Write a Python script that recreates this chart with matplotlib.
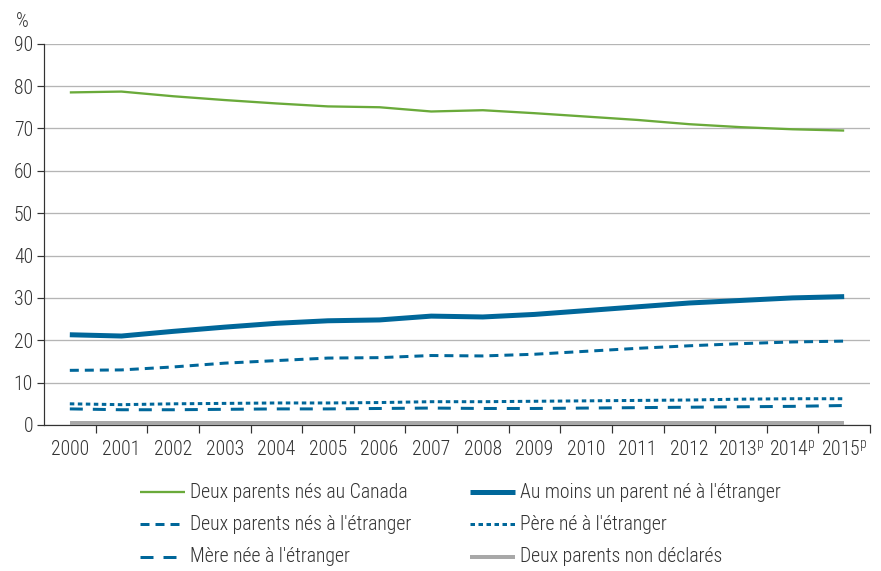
import matplotlib
matplotlib.use("Agg")
import matplotlib.pyplot as plt
from matplotlib.lines import Line2D
import numpy as np

FONT = ['Roboto Condensed', 'Archivo Narrow', 'DejaVu Sans']
plt.rcParams['font.family'] = FONT
plt.rcParams['font.weight'] = 'light'
plt.rcParams['mathtext.fontset'] = 'custom'
plt.rcParams['mathtext.rm'] = 'Roboto Condensed:light'
plt.rcParams['mathtext.it'] = 'Roboto Condensed:light'
plt.rcParams['lines.scale_dashes'] = False

years = ["2000", "2001", "2002", "2003", "2004", "2005", "2006", "2007",
         "2008", "2009", "2010", "2011", "2012",
         "2013$^{\\mathrm{p}}$", "2014$^{\\mathrm{p}}$", "2015$^{\\mathrm{p}}$"]

deux_canada = [78.5, 78.7, 77.6, 76.7, 75.9, 75.2, 75.0, 74.0, 74.3, 73.6, 72.8, 72.0, 71.0, 70.3, 69.8, 69.5]
au_moins_un = [21.3, 21.0, 22.1, 23.1, 24.0, 24.6, 24.8, 25.7, 25.5, 26.1, 27.0, 27.9, 28.8, 29.4, 30.0, 30.3]
deux_etranger = [12.9, 13.0, 13.7, 14.6, 15.2, 15.8, 15.9, 16.4, 16.3, 16.7, 17.4, 18.1, 18.7, 19.2, 19.6, 19.8]
pere_etranger = [5.0, 4.8, 5.0, 5.1, 5.2, 5.2, 5.3, 5.5, 5.5, 5.6, 5.7, 5.8, 5.9, 6.1, 6.2, 6.2]
mere_etranger = [3.8, 3.6, 3.6, 3.7, 3.8, 3.8, 3.9, 4.0, 3.9, 3.9, 4.0, 4.1, 4.2, 4.3, 4.4, 4.6]
non_declares = [0.4, 0.4, 0.4, 0.4, 0.4, 0.4, 0.4, 0.4, 0.4, 0.4, 0.4, 0.4, 0.4, 0.4, 0.4, 0.4]

labels = ["Deux parents nés au Canada", "Au moins un parent né à l'étranger",
          "Deux parents nés à l'étranger", "Père né à l'étranger",
          "Mère née à l'étranger", "Deux parents non déclarés"]

GREEN = "#6aaa3a"
BLUE = "#00679a"
GRAY = "#a8a8a8"
TXT = "#333333"
FS = 14.2

W, H = 881, 571
fig = plt.figure(figsize=(W / 100, H / 100), dpi=100)
ax = fig.add_axes([44 / W, 1 - 425 / H, (870 - 44) / W, (425 - 43.7) / H])

x = np.arange(len(years))
px = 0.72  # points per pixel

styles = [
    dict(color=GREEN, lw=2.3 * px, ls='-'),
    dict(color=BLUE, lw=5.0 * px, ls='-'),
    dict(color=BLUE, lw=3.0 * px, ls=(0, (9 * px, 6 * px))),
    dict(color=BLUE, lw=3.0 * px, ls=(0, (4.5 * px, 3.5 * px))),
    dict(color=BLUE, lw=3.0 * px, ls=(0, (13 * px, 10 * px))),
    dict(color=GRAY, lw=4.0 * px, ls='-'),
]
series = [deux_canada, au_moins_un, deux_etranger, pere_etranger, mere_etranger, non_declares]
for i in [5, 0, 4, 3, 2, 1]:
    s = styles[i]
    ax.plot(x, series[i], color=s['color'], lw=s['lw'], linestyle=s['ls'],
            solid_capstyle='butt', dash_capstyle='butt', zorder=3)

ax.set_xlim(-0.5, len(years) - 0.5)
ax.set_ylim(0, 90)
ax.set_yticks(np.arange(0, 91, 10))
ax.yaxis.grid(True, color="#b5b5b5", lw=1.3 * px)
ax.set_axisbelow(True)
ax.set_xticks(x)
ax.set_xticklabels(years)
ax.set_xticks(np.arange(0.5, len(years), 1.0), minor=True)
ax.tick_params(axis='x', which='major', length=0, pad=21.8, labelsize=FS, labelcolor=TXT)
ax.tick_params(axis='x', which='minor', length=6, width=1.2 * px, color=TXT)
ax.tick_params(axis='y', length=5, width=1.2 * px, color=TXT, labelsize=FS, labelcolor=TXT, pad=3)
for lab in ax.get_xticklabels():
    lab.set_verticalalignment('baseline')
for sp in ['top', 'right']:
    ax.spines[sp].set_visible(False)
for sp in ['left', 'bottom']:
    ax.spines[sp].set_color(TXT)
    ax.spines[sp].set_linewidth(1.2 * px)

fig.text(16 / W, 1 - 27 / H, "%", fontsize=FS, color=TXT)

# legend (manual layout)
pos = [(140, 492), (470, 492), (140, 524), (470, 524), (140, 557), (470, 557)]
for i, (lx, ly) in enumerate(pos):
    s = styles[i]
    fig.add_artist(Line2D([lx / W, (lx + 45) / W], [1 - ly / H, 1 - ly / H],
                          color=s['color'], lw=s['lw'], linestyle=s['ls'],
                          solid_capstyle='butt', dash_capstyle='butt'))
    fig.text((lx + 50) / W, 1 - ly / H, labels[i], fontsize=FS, color=TXT,
             va='center', ha='left')

fig.savefig("out.png", dpi=100)
